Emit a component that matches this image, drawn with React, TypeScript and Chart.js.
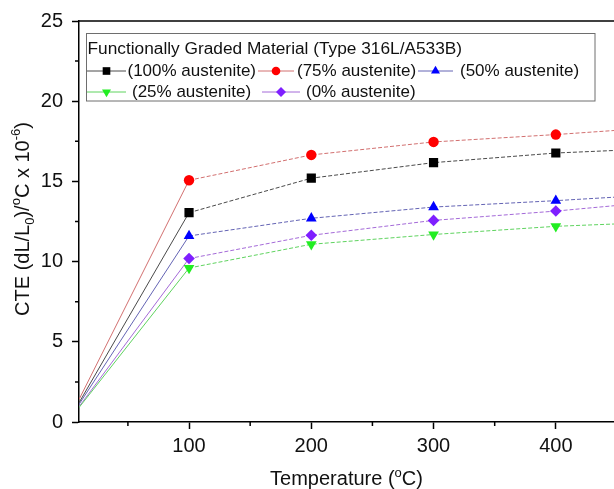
import React, { useEffect, useRef } from "react";
import { Chart, registerables } from "chart.js";
import { drawPoint } from "chart.js/helpers";

Chart.register(...registerables);

// ---------- data ----------
const temperatures = [10, 100, 200, 300, 400, 500];
const cte100 = [1.2, 13.05, 15.2, 16.17, 16.77, 17.1];
const cte75 = [1.4, 15.07, 16.65, 17.46, 17.92, 18.45];
const cte50 = [1.1, 11.6, 12.7, 13.4, 13.8, 14.25];
const cte25 = [0.9, 9.6, 11.08, 11.69, 12.2, 12.5];
const cte0 = [0.95, 10.19, 11.64, 12.57, 13.15, 13.85];

const seriesLabels = [
  "(100% austenite)",
  "(75% austenite)",
  "(50% austenite)",
  "(25% austenite)",
  "(0% austenite)",
];
const legendTitle = "Functionally Graded Material (Type 316L/A533B)";

const xMajorTicks = [100, 200, 300, 400];
const xMinorTicks = [50, 150, 250, 350, 450];
const yMajorTicks = [0, 5, 10, 15, 20, 25];
const yMinorTicks = [2.5, 7.5, 12.5, 17.5, 22.5];

// ---------- styles / layout ----------
const FONT = '"Liberation Sans", Arial, Helvetica, sans-serif';

const seriesStyles = [
  { marker: "#000000", line: "#4a4a4a", pointStyle: "rect", rotation: 0, radius: 6.5, legendRadius: 5.4 },
  { marker: "#ff0000", line: "#d27070", pointStyle: "circle", rotation: 0, radius: 5.2, legendRadius: 4.3 },
  { marker: "#0000ff", line: "#6464b4", pointStyle: "triangle", rotation: 0, radius: 6.2, legendRadius: 5.2 },
  { marker: "#22ee22", line: "#5fd35f", pointStyle: "triangle", rotation: 180, radius: 6.2, legendRadius: 5.2 },
  { marker: "#7f1fff", line: "#a46ad8", pointStyle: "rectRot", rotation: 0, radius: 5.8, legendRadius: 5 },
];

// legend entry placement: [row y, line start, line end, text x]
const legendLayout = [
  [71, 87, 126, 127.5],
  [71, 258, 294, 297],
  [71, 418, 453, 460],
  [92, 87, 126, 132],
  [92, 262, 300, 306],
];

const seriesValues = [cte100, cte75, cte50, cte25, cte0];

type Part = { t: string; k: "n" | "sub" | "sup" };

function drawRich(ctx: CanvasRenderingContext2D, parts: Part[], size: number) {
  const small = Math.round(size * 0.65);
  let x = 0;
  for (const p of parts) {
    const s = p.k === "n" ? size : small;
    ctx.font = `${s}px ${FONT}`;
    const dy = p.k === "sub" ? size * 0.28 : p.k === "sup" ? -size * 0.42 : 0;
    ctx.fillText(p.t, x, dy);
    x += ctx.measureText(p.t).width;
  }
  return x;
}

function measureRich(ctx: CanvasRenderingContext2D, parts: Part[], size: number) {
  const small = Math.round(size * 0.65);
  let w = 0;
  for (const p of parts) {
    ctx.font = `${p.k === "n" ? size : small}px ${FONT}`;
    w += ctx.measureText(p.t).width;
  }
  return w;
}

const overlayPlugin = {
  id: "overlay",
  afterDraw(chart: any) {
    const { ctx, chartArea: ca, scales } = chart;
    const xs = scales.x;
    const ys = scales.y;
    ctx.save();

    // top frame line
    ctx.strokeStyle = "#000";
    ctx.lineWidth = 1.5;
    ctx.beginPath();
    ctx.moveTo(ca.left - 0.75, ca.top);
    ctx.lineTo(ca.right + 10, ca.top);
    ctx.stroke();

    // minor ticks
    ctx.beginPath();
    for (const v of xMinorTicks) {
      const px = xs.getPixelForValue(v);
      ctx.moveTo(px, ca.bottom);
      ctx.lineTo(px, ca.bottom + 4);
    }
    for (const v of yMinorTicks) {
      const py = ys.getPixelForValue(v);
      ctx.moveTo(ca.left, py);
      ctx.lineTo(ca.left - 4, py);
    }
    ctx.stroke();

    // legend box
    ctx.strokeStyle = "#6e6e6e";
    ctx.lineWidth = 1;
    ctx.strokeRect(86.5, 33.5, 508.5, 67.5);
    ctx.fillStyle = "#111";
    ctx.textAlign = "left";
    ctx.textBaseline = "middle";
    ctx.font = `17.3px ${FONT}`;
    ctx.fillText(legendTitle, 87.5, 49);
    seriesLabels.forEach((label, i) => {
      const st = seriesStyles[i];
      const [y, l0, l1, tx] = legendLayout[i];
      ctx.strokeStyle = st.line;
      ctx.lineWidth = 1;
      ctx.beginPath();
      ctx.moveTo(l0, y);
      ctx.lineTo(l1, y);
      ctx.stroke();
      ctx.fillStyle = st.marker;
      ctx.strokeStyle = st.marker;
      drawPoint(
        ctx,
        { pointStyle: st.pointStyle, rotation: st.rotation, radius: st.legendRadius, borderWidth: 0 } as any,
        (l0 + l1) / 2,
        y
      );
      ctx.fillStyle = "#111";
      ctx.font = `17px ${FONT}`;
      ctx.textBaseline = "middle";
      ctx.fillText(label, tx, y + 0.5);
    });

    // axis titles
    ctx.fillStyle = "#111";
    ctx.textBaseline = "alphabetic";
    ctx.textAlign = "left";
    const xTitle: Part[] = [
      { t: "Temperature (", k: "n" },
      { t: "o", k: "sup" },
      { t: "C)", k: "n" },
    ];
    const xw = measureRich(ctx, xTitle, 20);
    ctx.save();
    ctx.translate((ca.left + 614) / 2 - xw / 2, 485);
    drawRich(ctx, xTitle, 20);
    ctx.restore();

    const yTitle: Part[] = [
      { t: "CTE (dL/L", k: "n" },
      { t: "0", k: "sub" },
      { t: ")/", k: "n" },
      { t: "o", k: "sup" },
      { t: "C x 10", k: "n" },
      { t: "-6", k: "sup" },
      { t: ")", k: "n" },
    ];
    const yw = measureRich(ctx, yTitle, 20);
    ctx.save();
    ctx.translate(28.5, 219 + yw / 2);
    ctx.rotate(-Math.PI / 2);
    drawRich(ctx, yTitle, 20);
    ctx.restore();

    ctx.restore();
  },
};

export default function App() {
  const canvasRef = useRef<HTMLCanvasElement | null>(null);

  useEffect(() => {
    document.body.style.margin = "0";
    const canvas = canvasRef.current;
    if (!canvas) return;

    const datasets = seriesValues.map((vals, i) => {
      const st = seriesStyles[i];
      return {
        label: seriesLabels[i],
        data: temperatures.map((t, j) => ({ x: t, y: vals[j] })),
        borderColor: st.line,
        borderWidth: 1,
        backgroundColor: st.marker,
        pointBackgroundColor: st.marker,
        pointBorderColor: st.marker,
        pointBorderWidth: 0,
        pointStyle: st.pointStyle,
        pointRotation: st.rotation,
        pointRadius: (c: any) => (c.dataIndex === 0 ? 0 : st.radius),
        pointHoverRadius: (c: any) => (c.dataIndex === 0 ? 0 : st.radius),
        tension: 0,
        fill: false,
        segment: {
          borderDash: (c: any) => (c.p0DataIndex === 0 ? [] : [4, 2]),
        },
      };
    });

    const chart = new Chart(canvas, {
      type: "line",
      data: { datasets: datasets as any },
      options: {
        animation: false,
        responsive: true,
        maintainAspectRatio: false,
        layout: { padding: { top: 21, right: 0, left: 0, bottom: 0 } },
        plugins: {
          legend: { display: false },
          tooltip: { enabled: false },
        },
        scales: {
          x: {
            type: "linear",
            min: 10,
            max: 448,
            afterBuildTicks: (s: any) => {
              s.ticks = xMajorTicks.map((v) => ({ value: v }));
            },
            afterFit: (s: any) => {
              s.height = 67;
            },
            grid: {
              drawOnChartArea: false,
              drawTicks: true,
              tickLength: 7,
              tickColor: "#000",
              tickWidth: 1.5,
            },
            border: { display: true, color: "#000", width: 1.5 },
            ticks: {
              autoSkip: false,
              maxRotation: 0,
              padding: 5,
              color: "#111",
              font: { family: FONT, size: 20 },
            },
          },
          y: {
            type: "linear",
            min: 0,
            max: 25,
            afterBuildTicks: (s: any) => {
              s.ticks = yMajorTicks.map((v) => ({ value: v }));
            },
            afterFit: (s: any) => {
              s.width = 79;
            },
            grid: {
              drawOnChartArea: false,
              drawTicks: true,
              tickLength: 7,
              tickColor: "#000",
              tickWidth: 1.5,
            },
            border: { display: true, color: "#000", width: 1.5 },
            ticks: {
              autoSkip: false,
              padding: 9,
              color: "#111",
              font: { family: FONT, size: 20 },
            },
          },
        },
      },
      plugins: [overlayPlugin],
    });

    return () => chart.destroy();
  }, []);

  return (
    <div
      style={{
        position: "absolute",
        left: 0,
        top: 0,
        width: 614,
        height: 489,
        overflow: "hidden",
        background: "#fff",
      }}
    >
      <div style={{ position: "relative", width: 621, height: 489 }}>
        <canvas ref={canvasRef} />
      </div>
    </div>
  );
}
